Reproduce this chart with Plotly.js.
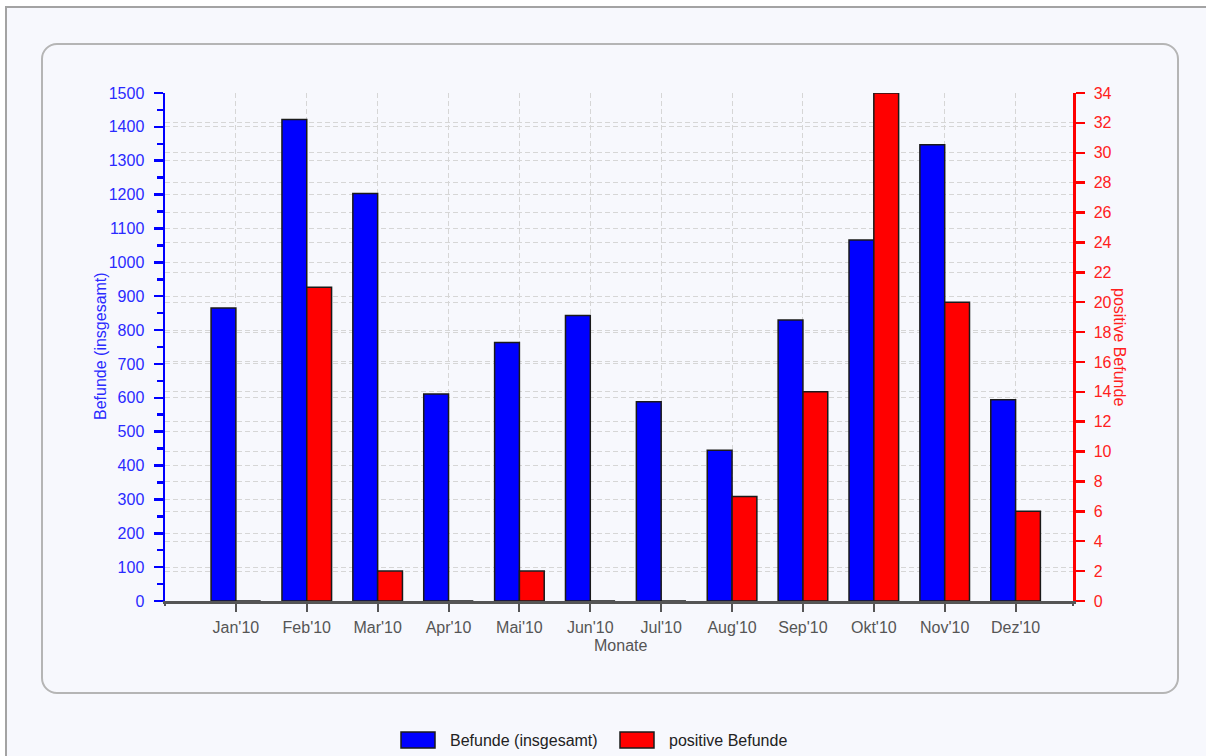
<!DOCTYPE html>
<html>
<head>
<meta charset="utf-8">
<script src="https://cdn.plot.ly/plotly-3.0.1.min.js"></script>
<style>
  html, body { margin: 0; padding: 0; background: #ffffff; width: 1206px; height: 756px; overflow: hidden; }
  #frame { position: absolute; left: 5px; top: 6px; width: 1201px; height: 750px;
           border-left: 2px solid #a3a3a3; border-top: 2px solid #a3a3a3; background: #f7f8fd; }
  #panel { position: absolute; left: 41px; top: 43px; width: 1134px; height: 647px;
           border: 2px solid #b5b5b5; border-radius: 16px; background: #f7f8fd; }
  #chart { position: absolute; left: 0; top: 0; width: 1206px; height: 756px; }
</style>
</head>
<body>
<div id="frame"></div>
<div id="panel"></div>
<div id="chart"></div>
<script>
// ---- data ----
const months = ["Jan'10", "Feb'10", "Mar'10", "Apr'10", "Mai'10", "Jun'10",
                "Jul'10", "Aug'10", "Sep'10", "Okt'10", "Nov'10", "Dez'10"];
const befundeInsgesamt = [865, 1422, 1203, 611, 763, 843, 588, 445, 830, 1066, 1347, 594];
const positiveBefunde = [0, 21, 2, 0, 2, 0, 0, 7, 14, 34, 20, 6];
const seriesNames = ["Befunde (insgesamt)", "positive Befunde"];
const axisTitles = { left: "Befunde (insgesamt)", right: "positive Befunde", x: "Monate" };

const FONT = "Liberation Sans, Arial, sans-serif";
const W = 1206, H = 756, ML = 165, MR = 133, MT = 93, MB = 155;
const PW = W - ML - MR, PH = H - MT - MB;
const px = (x) => (x - ML) / PW;          // pixel -> paper x
const py = (y) => (H - MB - y) / PH;      // pixel -> paper y

const traces = [
  {
    type: 'bar', name: seriesNames[0], x: months, y: befundeInsgesamt,
    yaxis: 'y', width: 0.35, offset: -0.35,
    marker: { color: '#0000ff', line: { color: '#1a1a1a', width: 1.5 } },
    hoverinfo: 'x+y'
  },
  {
    type: 'bar', name: seriesNames[1], x: months, y: positiveBefunde,
    yaxis: 'y2', width: 0.35, offset: 0,
    marker: { color: '#ff0000', line: { color: '#1a1a1a', width: 1.5 } },
    hoverinfo: 'x+y'
  }
];

const gridDash = '5px,3px';
const gridColor = '#d6d6d6';

const layout = {
  width: W, height: H,
  margin: { l: ML, r: MR, t: MT, b: MB, pad: 0 },
  paper_bgcolor: 'rgba(0,0,0,0)',
  plot_bgcolor: 'rgba(0,0,0,0)',
  barmode: 'overlay',
  showlegend: false,
  font: { family: FONT, size: 16, color: '#505050' },
  xaxis: {
    type: 'category', range: [-1, 11.81], dtick: 1,
    showline: true, linecolor: '#555555', linewidth: 2.5, layer: 'above traces',
    ticks: 'outside', ticklen: 8, tickwidth: 2, tickcolor: '#555555',
    ticklabelstandoff: 2,
    tickfont: { family: FONT, size: 16, color: '#555555' },
    showgrid: true, gridcolor: gridColor, griddash: gridDash, gridwidth: 1,
    zeroline: false, fixedrange: true
  },
  yaxis: {
    range: [0, 1500], dtick: 100, tick0: 0,
    showline: true, linecolor: '#0000ff', linewidth: 2.5,
    ticks: 'outside', ticklen: 9, tickwidth: 2.5, tickcolor: '#0000ff',
    ticklabelstandoff: 6,
    tickfont: { family: FONT, size: 16, color: '#2a2aff' },
    minor: { dtick: 50, ticks: 'outside', ticklen: 6, tickwidth: 2.5, tickcolor: '#0000ff', showgrid: false },
    showgrid: true, gridcolor: gridColor, griddash: gridDash, gridwidth: 1,
    zeroline: false, fixedrange: true
  },
  yaxis2: {
    overlaying: 'y', side: 'right',
    range: [0, 34], dtick: 2, tick0: 0,
    showline: true, linecolor: '#ff0000', linewidth: 2.5,
    ticks: 'outside', ticklen: 9, tickwidth: 2.5, tickcolor: '#ff0000',
    ticklabelstandoff: 6,
    tickfont: { family: FONT, size: 16, color: '#ff2020' },
    minor: { ticks: '', showgrid: false },
    showgrid: true, gridcolor: gridColor, griddash: gridDash, gridwidth: 1,
    zeroline: false, fixedrange: true
  },
  shapes: [
    // small end ticks of the x axis
    { type: 'line', xref: 'paper', yref: 'paper', x0: 0, x1: 0, y0: 0, y1: py(606), line: { color: '#555555', width: 2 } },
    { type: 'line', xref: 'paper', yref: 'paper', x0: 1, x1: 1, y0: 0, y1: py(606), line: { color: '#555555', width: 2 } },
    // legend swatches
    { type: 'rect', xref: 'paper', yref: 'paper', x0: px(401), x1: px(435), y0: py(748), y1: py(732),
      fillcolor: '#0000ff', line: { color: '#1a1a1a', width: 1.5 } },
    { type: 'rect', xref: 'paper', yref: 'paper', x0: px(620), x1: px(654), y0: py(748), y1: py(732),
      fillcolor: '#ff0000', line: { color: '#1a1a1a', width: 1.5 } }
  ],
  annotations: [
    { text: axisTitles.left, xref: 'paper', yref: 'paper', x: px(100), y: py(346),
      xanchor: 'center', yanchor: 'middle', textangle: -90, showarrow: false,
      font: { family: FONT, size: 16, color: '#2a2aff' } },
    { text: axisTitles.right, xref: 'paper', yref: 'paper', x: px(1120), y: py(347),
      xanchor: 'center', yanchor: 'middle', textangle: 90, showarrow: false,
      font: { family: FONT, size: 16, color: '#ff2020' } },
    { text: axisTitles.x, xref: 'paper', yref: 'paper', x: px(620), y: py(645),
      xanchor: 'center', yanchor: 'middle', showarrow: false,
      font: { family: FONT, size: 16, color: '#555555' } },
    // legend labels
    { text: seriesNames[0], xref: 'paper', yref: 'paper', x: px(448), y: py(740),
      xanchor: 'left', yanchor: 'middle', showarrow: false,
      font: { family: FONT, size: 16, color: '#222222' } },
    { text: seriesNames[1], xref: 'paper', yref: 'paper', x: px(667), y: py(740),
      xanchor: 'left', yanchor: 'middle', showarrow: false,
      font: { family: FONT, size: 16, color: '#222222' } }
  ]
};

Plotly.newPlot('chart', traces, layout, { displayModeBar: false, staticPlot: true });
</script>
</body>
</html>
